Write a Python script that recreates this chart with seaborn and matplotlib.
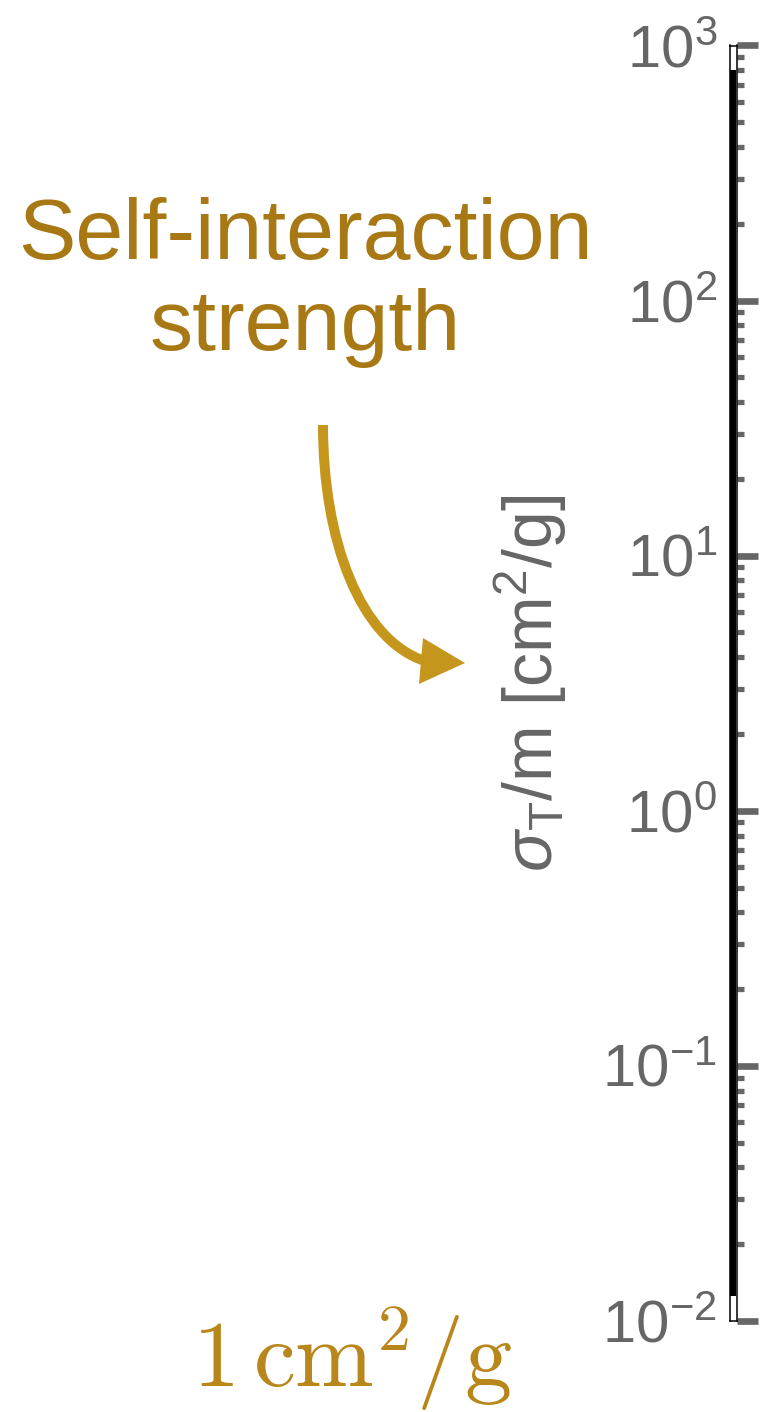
import numpy as np
import pandas as pd
import matplotlib
matplotlib.use("Agg")
import matplotlib.pyplot as plt
from matplotlib.path import Path
from matplotlib.patches import PathPatch, Polygon
from matplotlib.ticker import FixedLocator, FixedFormatter, LogLocator, NullFormatter
import seaborn as sns

# Range of the self-interaction cross section shown on the scale bar
band_sigma = [0.0125, 800.0]
y_limits = [1e-2, 1e3]
major_exponents = [-2, -1, 0, 1, 2, 3]
major_labels = [r"$\mathregular{10^{%d}}$" % e for e in major_exponents]
axis_label = r"$\sigma_{\mathrm{T}}$/m [cm$^{2}$/g]"
callout_text = "Self-interaction\nstrength"
unit_text = r"$1\,\mathrm{cm}^{2}/\mathrm{g}$"

GRAY = "#666666"
TEXT_GOLD = "#A87814"
ARROW_GOLD = "#C4961C"
UNIT_GOLD = "#B8861A"

sns.set_style("white")
plt.rcParams["font.family"] = ["Liberation Sans", "DejaVu Sans"]
plt.rcParams["mathtext.fontset"] = "custom"
plt.rcParams["mathtext.rm"] = "Liberation Sans"
plt.rcParams["mathtext.it"] = "Liberation Sans:italic"
plt.rcParams["mathtext.bf"] = "Liberation Sans:bold"
plt.rcParams["mathtext.sf"] = "Liberation Sans"

W, H = 761, 1412
fig = plt.figure(figsize=(W / 100, H / 100), dpi=100)

# thin vertical scale bar
left, right, top, bottom = 729.5, 736.5, 45.5, 1321.0
ax = fig.add_axes([left / W, 1 - bottom / H, (right - left) / W, (bottom - top) / H])

df = pd.DataFrame({"x": [0.0, 0.0], "sigma": band_sigma})
sns.lineplot(data=df, x="x", y="sigma", ax=ax, color="black", linewidth=4.3,
             estimator=None, sort=False, legend=False, solid_capstyle="butt")

ax.set_yscale("log")
ax.set_ylim(*y_limits)
ax.set_xlim(-1, 1)
ax.set_xticks([])
ax.set_xlabel("")

for s in ax.spines.values():
    s.set_visible(True)
    s.set_color("black")
    s.set_linewidth(1.1)

ax.yaxis.set_major_locator(FixedLocator([10.0 ** e for e in major_exponents]))
ax.yaxis.set_major_formatter(FixedFormatter(major_labels))
ax.yaxis.set_minor_locator(LogLocator(base=10, subs=np.arange(2, 10), numticks=20))
ax.yaxis.set_minor_formatter(NullFormatter())

major_len, minor_len = 15.1, 5.2
ax.tick_params(axis="y", which="major", direction="out", length=major_len, width=4.8,
               color=GRAY, left=False, right=True, labelleft=True, labelright=False,
               labelsize=43, labelcolor=GRAY, pad=9 - major_len)
ax.tick_params(axis="y", which="minor", direction="out", length=minor_len, width=3.8,
               color=GRAY, left=False, right=True)

ax.set_ylabel(axis_label, fontsize=49, color=GRAY, labelpad=24)

# callout text and curved arrow pointing at the axis label
def px(x, y):
    return (x / W, 1 - y / H)

fig.text(*px(305, 350), callout_text, ha="center", va="baseline", fontsize=62,
         color=TEXT_GOLD, linespacing=1.17)

shaft = Path([px(323, 425), px(323, 540), px(360, 640), px(425, 661)],
             [Path.MOVETO, Path.CURVE4, Path.CURVE4, Path.CURVE4])
fig.add_artist(PathPatch(shaft, transform=fig.transFigure, fill=False,
                         edgecolor=ARROW_GOLD, linewidth=7.2, capstyle="butt"))
fig.add_artist(Polygon([px(465, 663), px(423, 638), px(419, 684)], closed=True,
                       transform=fig.transFigure, facecolor=ARROW_GOLD, linewidth=0))

t = fig.text(*px(352, 1388), unit_text, ha="center", va="baseline", fontsize=68,
             color=UNIT_GOLD)
t.set_math_fontfamily("cm")

fig.savefig("out.png", dpi=100)
